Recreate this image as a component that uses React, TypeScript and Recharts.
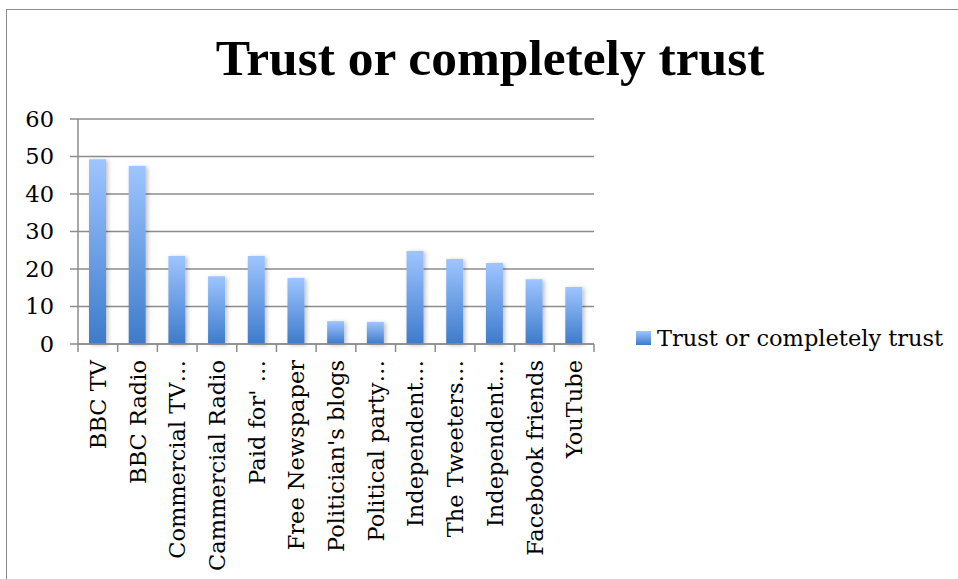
import React from "react";
import { BarChart, Bar, XAxis, YAxis, CartesianGrid } from "recharts";

const categories = [
  "BBC TV",
  "BBC Radio",
  "Commercial TV…",
  "Cammercial Radio",
  "Paid for' …",
  "Free Newspaper",
  "Politician's blogs",
  "Political party…",
  "Independent…",
  "The Tweeters…",
  "Independent…",
  "Facebook friends",
  "YouTube",
];
const trustValues = [49.3, 47.5, 23.5, 18.1, 23.5, 17.6, 6.1, 5.9, 24.8, 22.7, 21.6, 17.3, 15.2];
const yTicks = [0, 10, 20, 30, 40, 50, 60];
const seriesName = "Trust or completely trust";
const chartTitle = "Trust or completely trust";

const data = categories.map((name, i) => ({ idx: i, name, value: trustValues[i] }));

const FONT = "'DejaVu Serif', serif";
const TITLE_FONT = "'Liberation Serif', 'Times New Roman', serif";
const GRID = "#8c8c8c";
const X_TICK_SIZE = 8;
const X_TICK_MARGIN = 8;

function CategoryTick(props: any) {
  const { x, y, payload, index } = props;
  const half = typeof payload.offset === "number" ? payload.offset : 0;
  const axisY = y - X_TICK_SIZE - X_TICK_MARGIN;
  const label = categories[payload.value] ?? String(payload.value);
  const isLast = index === categories.length - 1;
  return (
    <g>
      <line x1={x - half} x2={x - half} y1={axisY} y2={axisY + X_TICK_SIZE} stroke={GRID} strokeWidth={1.5} />
      {isLast && (
        <line x1={x + half} x2={x + half} y1={axisY} y2={axisY + X_TICK_SIZE} stroke={GRID} strokeWidth={1.5} />
      )}
      <text
        x={x}
        y={y}
        transform={`rotate(-90, ${x}, ${y})`}
        textAnchor="end"
        dy="0.36em"
        fontFamily={FONT}
        fontSize={22.5}
        fill="#000"
      >
        {label}
      </text>
    </g>
  );
}

export default function App() {
  return (
    <div
      style={{
        position: "absolute",
        left: 0,
        top: 0,
        width: 958,
        height: 579,
        overflow: "hidden",
        background: "#fff",
      }}
    >
      <div
        style={{
          position: "absolute",
          left: 6,
          top: 9,
          width: 1100,
          height: 1100,
          borderLeft: "1.5px solid #8a8a8a",
          borderTop: "1.5px solid #8a8a8a",
        }}
      />
      <div
        style={{
          position: "absolute",
          left: 0,
          width: 980,
          top: 28,
          textAlign: "center",
          fontFamily: TITLE_FONT,
          fontWeight: "bold",
          fontSize: 51.5,
          lineHeight: "60px",
          color: "#000",
        }}
      >
        {chartTitle}
      </div>
      <div style={{ position: "absolute", left: 0, top: 0 }}>
        <BarChart
          width={958}
          height={579}
          data={data}
          margin={{ top: 119, right: 364, bottom: 0, left: 0 }}
        >
          <defs>
            <linearGradient id="barGrad" x1="0" y1="0" x2="0" y2="1">
              <stop offset="0%" stopColor="#9EC5FF" />
              <stop offset="100%" stopColor="#3D7BCB" />
            </linearGradient>
            <filter id="barShadow" x="-50%" y="-10%" width="200%" height="130%">
              <feDropShadow dx="2" dy="1" stdDeviation="2" floodColor="#000" floodOpacity="0.25" />
            </filter>
          </defs>
          <CartesianGrid vertical={false} stroke={GRID} strokeWidth={1.5} />
          <XAxis
            dataKey="idx"
            type="category"
            interval={0}
            height={235}
            axisLine={{ stroke: GRID, strokeWidth: 1.5 }}
            tickLine={false}
            tickSize={X_TICK_SIZE}
            tickMargin={X_TICK_MARGIN}
            tick={<CategoryTick />}
          />
          <YAxis
            width={78}
            domain={[0, 60]}
            ticks={yTicks}
            interval={0}
            axisLine={{ stroke: GRID, strokeWidth: 1.5 }}
            tickLine={{ stroke: GRID, strokeWidth: 1.5 }}
            tickSize={8}
            tickMargin={16}
            tick={{ fontFamily: FONT, fontSize: 22.5, fill: "#000" }}
          />
          <Bar
            dataKey="value"
            name={seriesName}
            fill="url(#barGrad)"
            barSize={17}
            filter="url(#barShadow)"
            isAnimationActive={false}
          />
        </BarChart>
      </div>
      <div
        style={{
          position: "absolute",
          left: 636,
          top: 322,
          display: "flex",
          alignItems: "center",
          fontFamily: FONT,
          fontSize: 22.5,
          lineHeight: "32px",
          color: "#000",
          whiteSpace: "nowrap",
        }}
      >
        <span
          style={{
            display: "inline-block",
            width: 15,
            height: 14,
            marginRight: 6,
            background: "linear-gradient(#9EC5FF, #3D7BCB)",
          }}
        />
        <span>{seriesName}</span>
      </div>
    </div>
  );
}
